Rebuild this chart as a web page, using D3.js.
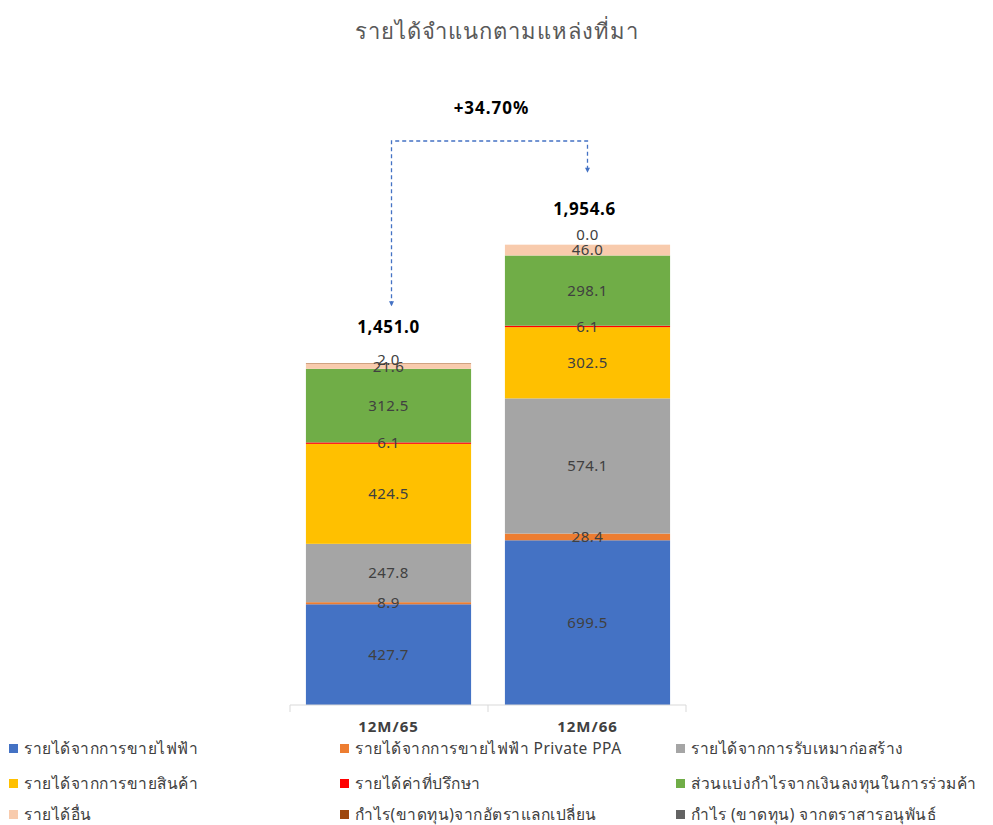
<!DOCTYPE html>
<html><head><meta charset="utf-8">
<script src="https://cdn.jsdelivr.net/npm/d3@7"></script>
<style>
html,body{margin:0;padding:0;background:#fff;}
svg{display:block;font-family:"Noto Sans","Open Sans",sans-serif;}
</style></head>
<body>
<svg id="chart" width="993" height="825"></svg>
<script>
const title = "รายได้จำแนกตามแหล่งที่มา";
const categories = ["12M/65", "12M/66"];
const seriesNames = [
  "รายได้จากการขายไฟฟ้า",
  "รายได้จากการขายไฟฟ้า Private PPA",
  "รายได้จากการรับเหมาก่อสร้าง",
  "รายได้จากการขายสินค้า",
  "รายได้ค่าที่ปรึกษา",
  "ส่วนแบ่งกำไรจากเงินลงทุนในการร่วมค้า",
  "รายได้อื่น",
  "กำไร(ขาดทุน)จากอัตราแลกเปลี่ยน",
  "กำไร (ขาดทุน) จากตราสารอนุพันธ์"
];
const seriesColors = ["#4472C4","#ED7D31","#A5A5A5","#FFC000","#FF0000","#70AD47","#F8CBAD","#9E480E","#636363"];
const electricity = [427.7, 699.5];
const privatePPA = [8.9, 28.4];
const construction = [247.8, 574.1];
const goods = [424.5, 302.5];
const consulting = [6.1, 6.1];
const jvShare = [312.5, 298.1];
const otherIncome = [21.6, 46.0];
const fxGain = [2.0, 0.0];
const derivatives = [null, null];
const totals = [1451.0, 1954.6];
const growthLabel = "+34.70%";

const seriesValues = [electricity, privatePPA, construction, goods, consulting, jvShare, otherIncome, fxGain, derivatives];

const svg = d3.select("#chart");
const baseY = 705;
const y = d3.scaleLinear().domain([0, 2500]).range([baseY, baseY - 2500 * 0.2355]);
const x = d3.scaleBand().domain(categories).range([290, 686]).paddingInner(0.17).paddingOuter(0.08);

// title
svg.append("text").attr("x", 497).attr("y", 39).attr("text-anchor", "middle")
  .attr("font-size", 22).attr("letter-spacing", 1).attr("fill", "#595959").text(title);

// stacked bars
const table = categories.map((c, i) => {
  const o = {cat: c};
  seriesNames.forEach((s, j) => o[s] = seriesValues[j][i] == null ? 0 : seriesValues[j][i]);
  return o;
});
const stack = d3.stack().keys(seriesNames)(table);

stack.forEach((layer, j) => {
  svg.append("g").selectAll("rect").data(layer).join("rect")
    .attr("x", d => x(d.data.cat))
    .attr("width", x.bandwidth())
    .attr("y", d => y(d[1]))
    .attr("height", d => Math.max(0, y(d[0]) - y(d[1])))
    .attr("fill", seriesColors[j]);
});

// value labels
stack.forEach((layer, j) => {
  layer.forEach((d, i) => {
    const v = seriesValues[j][i];
    if (v == null) return;
    const mid = (y(d[0]) + y(d[1])) / 2;
    const off = v < 3 ? (v === 0 ? -10 : -4) : 0;
    svg.append("text")
      .attr("x", x(d.data.cat) + x.bandwidth() / 2)
      .attr("y", mid + off)
      .attr("dy", "0.35em")
      .attr("text-anchor", "middle")
      .attr("font-size", 15)
      .attr("letter-spacing", 0.4)
      .attr("fill", "#404040")
      .text(d3.format(",.1f")(v));
  });
});

// axis
const axis = svg.append("g").attr("transform", `translate(0,${baseY})`)
  .call(d3.axisBottom(x).tickSize(0).tickPadding(16));
axis.select(".domain").attr("stroke", "#D9D9D9").attr("d", `M290,0H686`);
axis.selectAll(".tick text").attr("font-size", 15).attr("font-weight", "bold").attr("letter-spacing", 1)
  .attr("fill", "#404040").attr("font-family", "'Noto Sans', sans-serif");
const boundaries = [290, (x(categories[0]) + x.bandwidth() + x(categories[1])) / 2, 686];
svg.append("g").selectAll("line").data(boundaries).join("line")
  .attr("x1", d => d).attr("x2", d => d).attr("y1", baseY).attr("y2", baseY + 7)
  .attr("stroke", "#D9D9D9");

// totals
totals.forEach((t, i) => {
  svg.append("text")
    .attr("x", x(categories[i]) + x.bandwidth() / 2 + (i === 0 ? 0 : -3))
    .attr("y", y(t) - 30)
    .attr("text-anchor", "middle")
    .attr("font-size", 17).attr("letter-spacing", 0.6).attr("font-weight", "bold").attr("fill", "#000")
    .text(d3.format(",.1f")(t));
});

// growth connector
const lx = x(categories[0]) + x.bandwidth() / 2 + 3;
const rx = x(categories[1]) + x.bandwidth() / 2;
const topY = 141;
const leftEnd = y(totals[0]) - 58;
const rightEnd = y(totals[1]) - 73;
svg.append("path")
  .attr("d", `M${lx},${leftEnd}V${topY}H${rx}V${rightEnd}`)
  .attr("fill", "none").attr("stroke", "#4472C4").attr("stroke-width", 1.3)
  .attr("stroke-dasharray", "4,3");
[[lx, leftEnd], [rx, rightEnd]].forEach(([ax, ay]) => {
  svg.append("path").attr("d", `M${ax - 2.5},${ay - 4}L${ax + 2.5},${ay - 4}L${ax},${ay + 1}Z`)
    .attr("fill", "#4472C4");
});
svg.append("text").attr("x", (lx + rx) / 2 + 2).attr("y", 114).attr("text-anchor", "middle")
  .attr("font-size", 17).attr("letter-spacing", 1).attr("font-weight", "bold").attr("fill", "#000").text(growthLabel);

// legend
const colX = [9, 340, 676];
const rowY = [749, 784, 815];
const legend = svg.append("g");
seriesNames.forEach((s, j) => {
  const cx = colX[j % 3], cy = rowY[Math.floor(j / 3)];
  legend.append("rect").attr("x", cx).attr("y", cy - 5).attr("width", 9).attr("height", 9).attr("fill", seriesColors[j]);
  legend.append("text").attr("x", cx + 15).attr("y", cy).attr("dy", "0.35em")
    .attr("font-size", 15.5).attr("letter-spacing", 0.5).attr("fill", "#404040").text(s);
});
</script>
</body></html>
